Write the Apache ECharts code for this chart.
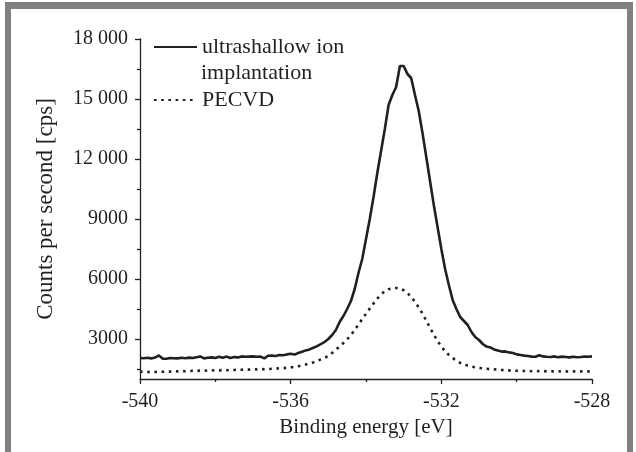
<!DOCTYPE html>
<html>
<head>
<meta charset="utf-8">
<script src="https://cdn.jsdelivr.net/npm/echarts@6/dist/echarts.min.js"></script>
<style>
  html, body { margin: 0; padding: 0; background: #ffffff; }
  #chart { width: 636px; height: 452px; }
</style>
</head>
<body>
<div id="chart"></div>
<script>
// Binding energy sampling [eV]
var energy = [
  -540.0,-539.9,-539.8,-539.7,-539.6,-539.5,-539.4,-539.3,-539.2,-539.1,
  -539.0,-538.9,-538.8,-538.7,-538.6,-538.5,-538.4,-538.3,-538.2,-538.1,
  -538.0,-537.9,-537.8,-537.7,-537.6,-537.5,-537.4,-537.3,-537.2,-537.1,
  -537.0,-536.9,-536.8,-536.7,-536.6,-536.5,-536.4,-536.3,-536.2,-536.1,
  -536.0,-535.9,-535.8,-535.7,-535.6,-535.5,-535.4,-535.3,-535.2,-535.1,
  -535.0,-534.9,-534.8,-534.7,-534.6,-534.5,-534.4,-534.3,-534.2,-534.1,
  -534.0,-533.9,-533.8,-533.7,-533.6,-533.5,-533.4,-533.3,-533.2,-533.1,
  -533.0,-532.9,-532.8,-532.7,-532.6,-532.5,-532.4,-532.3,-532.2,-532.1,
  -532.0,-531.9,-531.8,-531.7,-531.6,-531.5,-531.4,-531.3,-531.2,-531.1,
  -531.0,-530.9,-530.8,-530.7,-530.6,-530.5,-530.4,-530.3,-530.2,-530.1,
  -530.0,-529.9,-529.8,-529.7,-529.6,-529.5,-529.4,-529.3,-529.2,-529.1,
  -529.0,-528.9,-528.8,-528.7,-528.6,-528.5,-528.4,-528.3,-528.2,-528.1,
  -528.0
];

// O 1s counts, ultrashallow ion implantation [cps]
var implantCounts = [
  2050,2040,2060,2030,2070,2180,2020,2010,2050,2040,
  2030,2060,2040,2070,2050,2090,2130,2030,2060,2080,
  2050,2110,2060,2120,2050,2100,2080,2130,2110,2120,
  2130,2110,2120,2030,2160,2170,2150,2200,2190,2230,
  2260,2220,2300,2360,2430,2480,2560,2640,2740,2850,
  3000,3200,3450,3850,4150,4500,4900,5500,6300,7000,
  8000,9000,10100,11300,12400,13500,14700,15200,15600,16650,
  16650,16250,16050,15200,14400,13300,12100,10900,9700,8600,
  7500,6500,5700,4950,4500,4100,3900,3700,3350,3100,
  2950,2750,2620,2580,2480,2420,2370,2380,2330,2300,
  2230,2200,2170,2150,2120,2110,2190,2130,2110,2100,
  2130,2090,2120,2100,2080,2110,2090,2100,2120,2110,
  2130
];

// O 1s counts, PECVD [cps]
var pecvdCounts = [
  1370,1360,1350,1360,1350,1370,1360,1380,1370,1390,
  1380,1400,1390,1400,1410,1400,1420,1410,1430,1420,
  1440,1430,1450,1440,1460,1450,1470,1460,1480,1470,
  1490,1480,1500,1490,1500,1510,1520,1530,1540,1560,
  1580,1610,1640,1680,1720,1780,1830,1900,1980,2060,
  2150,2300,2460,2630,2800,2980,3200,3450,3720,4000,
  4260,4520,4780,5020,5230,5390,5490,5540,5550,5520,
  5440,5300,5100,4860,4580,4270,3920,3560,3230,2900,
  2620,2390,2200,2050,1920,1810,1730,1670,1620,1580,
  1550,1530,1510,1490,1480,1470,1450,1440,1430,1420,
  1410,1420,1400,1410,1390,1400,1390,1400,1380,1390,
  1380,1390,1370,1380,1370,1380,1370,1380,1370,1380,
  1370
];

var seriesNames = ['ultrashallow ion', 'PECVD'];
var implantNameLine2 = 'implantation';

// Axis ticks and their labels
var xTicks = [-540, -536, -532, -528];
var yMajorTicks = [3000, 6000, 9000, 12000, 15000, 18000];
var yTickLabels = ['3000', '6000', '9000', '12 000', '15 000', '18 000'];
var yMinorTicks = [1500, 4500, 7500, 10500, 13500, 16500];

var ink = '#231f20';
var serif = "'Liberation Serif', 'Times New Roman', serif";

function pairs(xs, ys) {
  var out = [];
  for (var i = 0; i < xs.length; i++) out.push([xs[i], ys[i]]);
  return out;
}

var chart = echarts.init(document.getElementById('chart'), null, { renderer: 'canvas' });

chart.setOption({
  animation: false,
  backgroundColor: '#ffffff',
  textStyle: { fontFamily: serif, color: ink },
  grid: { left: 140, right: 44, top: 39, bottom: 73, containLabel: false },
  graphic: [
    { type: 'rect', shape: { x: 5, y: 2, width: 628, height: 7 }, style: { fill: '#808080' }, silent: true },
    { type: 'rect', shape: { x: 5, y: 2, width: 6, height: 450 }, style: { fill: '#808080' }, silent: true },
    { type: 'rect', shape: { x: 627, y: 2, width: 6, height: 450 }, style: { fill: '#808080' }, silent: true },
    {
      type: 'text', left: 201, top: 62, silent: true,
      style: { text: implantNameLine2, font: '22px ' + serif, fill: ink }
    }
  ],
  legend: {
    orient: 'vertical',
    left: 153,
    top: 35,
    itemWidth: 43,
    itemHeight: 14,
    itemGap: 29,
    padding: 0,
    selectedMode: false,
    // line samples only, no marker on them
    itemStyle: { color: 'rgba(0,0,0,0)', borderColor: 'rgba(0,0,0,0)', borderWidth: 0 },
    textStyle: { fontFamily: serif, fontSize: 22, lineHeight: 24, color: ink },
    data: seriesNames
  },
  xAxis: {
    type: 'value',
    min: xTicks[0],
    max: xTicks[xTicks.length - 1],
    interval: 4,
    name: 'Binding energy [eV]',
    nameLocation: 'middle',
    nameGap: 38,
    nameTextStyle: { fontFamily: serif, fontSize: 21, color: ink },
    axisLine: { show: true, onZero: false, lineStyle: { color: ink, width: 1.3 } },
    axisTick: { show: true, inside: false, length: 5, lineStyle: { color: ink, width: 1.3 } },
    minorTick: { show: true, splitNumber: 2, length: 3, lineStyle: { color: ink, width: 1.3 } },
    axisLabel: { margin: 13, fontFamily: serif, fontSize: 20, color: ink },
    splitLine: { show: false },
    minorSplitLine: { show: false }
  },
  yAxis: [
    {
      type: 'value',
      position: 'left',
      min: 1000,
      max: 18000,
      name: 'Counts per second [cps]',
      nameLocation: 'middle',
      nameGap: 83,
      nameTextStyle: { fontFamily: serif, fontSize: 23, color: ink },
      axisLine: { show: true, onZero: false, lineStyle: { color: ink, width: 1.3 } },
      axisTick: { show: true, inside: false, length: 5, customValues: yMajorTicks, lineStyle: { color: ink, width: 1.3 } },
      axisLabel: {
        margin: 12, fontFamily: serif, fontSize: 20, color: ink,
        customValues: yMajorTicks,
        formatter: function (v) {
          var i = yMajorTicks.indexOf(v);
          return i >= 0 ? yTickLabels[i] : '';
        }
      },
      splitLine: { show: false }
    },
    {
      type: 'value',
      position: 'left',
      min: 1000,
      max: 18000,
      axisLine: { show: false },
      axisTick: { show: true, inside: false, length: 3, customValues: yMinorTicks, lineStyle: { color: ink, width: 1.3 } },
      axisLabel: { show: false },
      splitLine: { show: false }
    }
  ],
  series: [
    {
      name: seriesNames[0],
      type: 'line',
      yAxisIndex: 0,
      data: pairs(energy, implantCounts),
      symbol: 'none',
      showSymbol: false,
      lineStyle: { color: ink, width: 2.6 },
      itemStyle: { color: ink }
    },
    {
      name: seriesNames[1],
      type: 'line',
      yAxisIndex: 0,
      data: pairs(energy, pecvdCounts),
      symbol: 'none',
      showSymbol: false,
      lineStyle: { color: ink, width: 2.6, type: [2.6, 4.6] },
      itemStyle: { color: ink }
    }
  ]
});
</script>
</body>
</html>
